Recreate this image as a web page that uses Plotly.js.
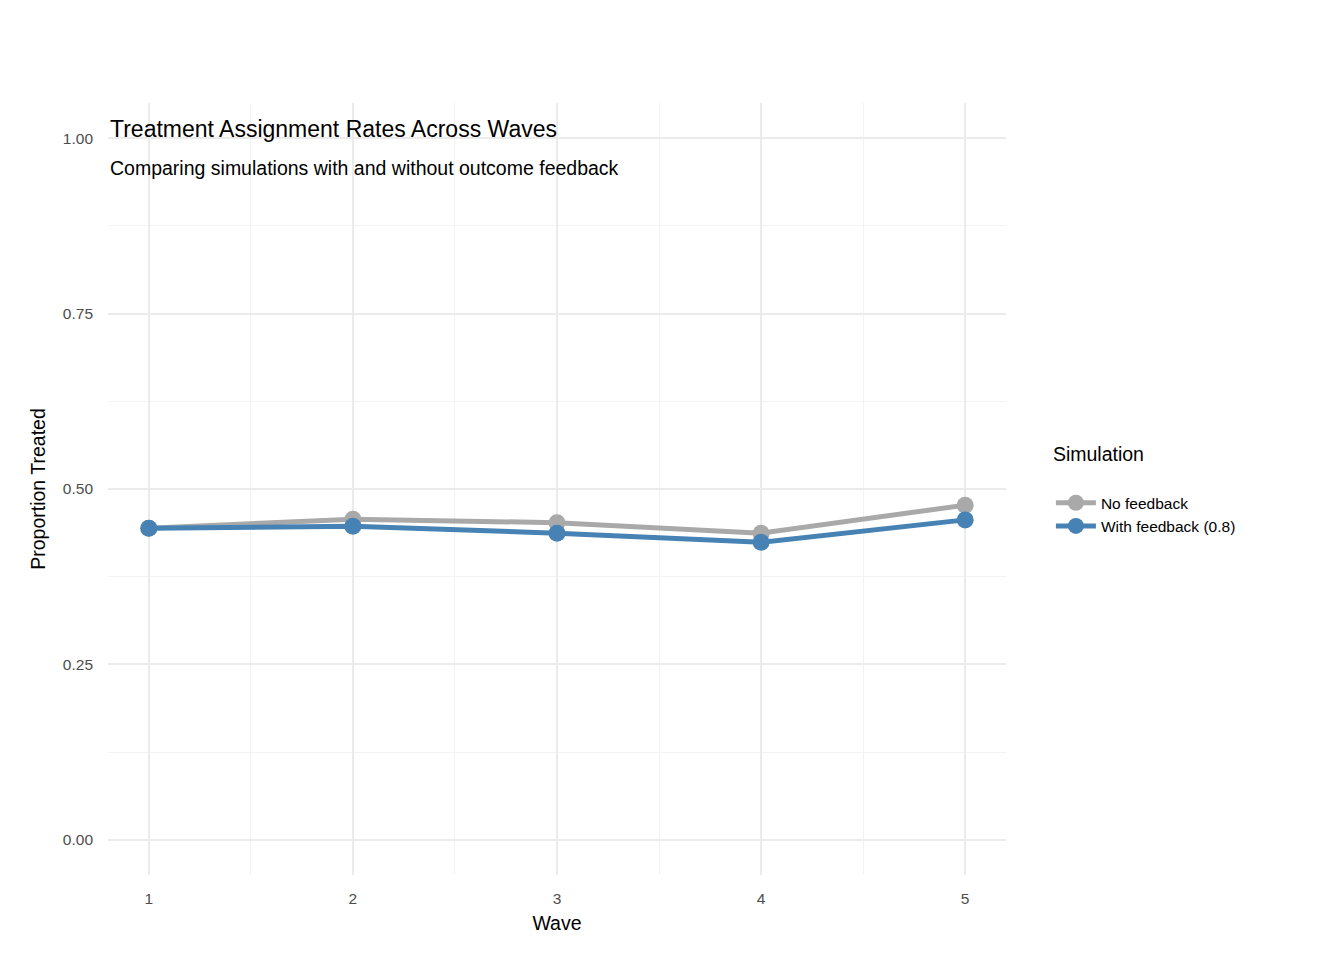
<!DOCTYPE html>
<html><head><script src="https://cdn.plot.ly/plotly-3.0.1.min.js"></script>
<style>body{margin:0}</style></head><body><div id="c" style="width:1344px;height:960px"></div>
<script>
const waves=[1,2,3,4,5];
const noFeedback=[0.444,0.457,0.452,0.437,0.477];
const withFeedback=[0.444,0.447,0.437,0.424,0.456];
const names=["No feedback","With feedback (0.8)"];
const colors=["#a9a9a9","#4682b4"];
const mk=(y,i)=>({x:waves,y:y,name:names[i],mode:"lines+markers",line:{color:colors[i],width:5},marker:{color:colors[i],size:17}});
Plotly.newPlot("c",[mk(noFeedback,0),mk(withFeedback,1)],{
 width:1344,height:960,paper_bgcolor:"#fff",plot_bgcolor:"#fff",
 margin:{l:108,r:338,t:103,b:85},
 font:{family:"Liberation Sans, Arial",color:"#000"},
 annotations:[
  {text:"Treatment Assignment Rates Across Waves",xref:"paper",yref:"paper",x:0,y:(960-103-29)/857,xanchor:"left",yanchor:"middle",showarrow:false,font:{size:23}},
  {text:"Comparing simulations with and without outcome feedback",xref:"paper",yref:"paper",x:0,y:(960-103-72)/857,xanchor:"left",yanchor:"middle",showarrow:false,font:{size:19.5}}
 ],
 xaxis:{range:[0.8,5.2],tickvals:waves,ticktext:["1","2","3","4","5"],title:{text:"Wave",font:{size:19.5},standoff:10},ticklabelstandoff:12,gridcolor:"#ebebeb",gridwidth:2,zeroline:false,showline:false,ticks:"",tickfont:{size:15.5,color:"#4d4d4d"},minor:{tickvals:[1.5,2.5,3.5,4.5],gridcolor:"#f3f3f3",gridwidth:1,showgrid:true}},
 yaxis:{range:[-0.05,1.05],tickvals:[0,0.25,0.5,0.75,1],ticktext:["0.00","0.25","0.50","0.75","1.00"],title:{text:"Proportion Treated",font:{size:19.5},standoff:12},ticklabelstandoff:14,gridcolor:"#ebebeb",gridwidth:2,zeroline:false,showline:false,ticks:"",tickfont:{size:15.5,color:"#4d4d4d"},minor:{tickvals:[0.125,0.375,0.625,0.875],gridcolor:"#f3f3f3",gridwidth:1,showgrid:true}},
 legend:{x:1.05,xanchor:"left",y:0.5,yanchor:"middle",title:{text:"Simulation<br> ",font:{size:19.5}},font:{size:15.5},tracegroupgap:22,itemwidth:40}
},{displayModeBar:false});
</script></body></html>
